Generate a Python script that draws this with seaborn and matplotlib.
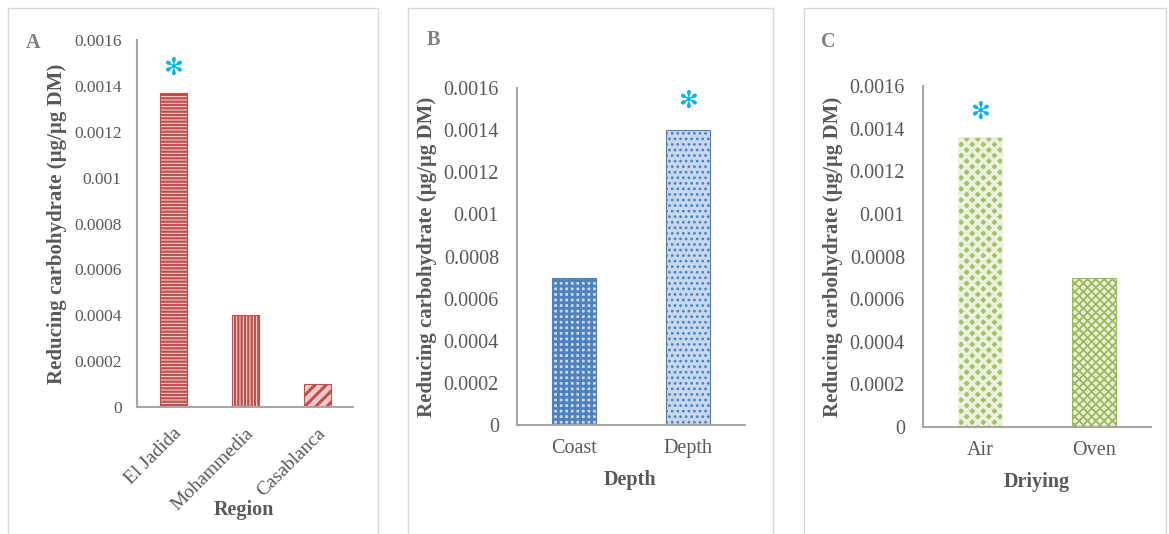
import matplotlib
matplotlib.use("Agg")
import matplotlib.pyplot as plt
import seaborn as sns
import numpy as np
import pandas as pd
from matplotlib.patches import Rectangle
from matplotlib.ticker import FixedLocator, FixedFormatter

# ---------------- data ----------------
region_cats = ["El Jadida", "Mohammedia", "Casablanca"]
region_vals = [0.00137, 0.00040, 0.00010]
depth_cats = ["Coast", "Depth"]
depth_vals = [0.00070, 0.00140]
drying_cats = ["Air", "Oven"]
drying_vals = [0.00136, 0.00070]
ytick_vals = [0, 0.0002, 0.0004, 0.0006, 0.0008, 0.001, 0.0012, 0.0014, 0.0016]
ytick_labels = ["0", "0.0002", "0.0004", "0.0006", "0.0008", "0.001", "0.0012", "0.0014", "0.0016"]
ylabel_text = "Reducing carbohydrate (µg/µg DM)"

sns.set_theme(style="white")
plt.rcParams["font.family"] = ["Liberation Serif", "DejaVu Sans"]
plt.rcParams["hatch.linewidth"] = 1.5

W, H = 1169, 534
fig = plt.figure(figsize=(W / 100, H / 100), dpi=100)
fig.patch.set_facecolor("white")

def px_axes(left, right, top, bottom):
    return fig.add_axes([left / W, (H - bottom) / H, (right - left) / W, (bottom - top) / H])

# panel borders
for (l, r) in [(8, 378), (408, 773), (804, 1166)]:
    fig.patches.append(Rectangle((l / W, -0.05), (r - l) / W, (H - 8) / H + 0.05,
                                 transform=fig.transFigure, fill=False,
                                 edgecolor="#d9d9d9", linewidth=1.0))

TICK_C = "#595959"
LAB_C = "#595959"
SPINE_C = "#a6a6a6"
STAR_C = "#00b0f0"

def style_axes(ax, cats, vals, styles, width, ytick_fs, xtick_fs, ypad, xpad, rot,
               ylab_x, xlab, xlab_xy, sig, star_off):
    sns.barplot(x=cats, y=vals, ax=ax, color="#ffffff", width=width, saturation=1, errorbar=None)
    for p, (fc, ec, hatch, hlw) in zip(ax.patches, styles):
        p.set_facecolor(fc)
        p.set_edgecolor(ec)
        p.set_hatch(hatch)
        p.set_linewidth(0.8)
        if hasattr(p, "set_hatch_linewidth"):
            p.set_hatch_linewidth(hlw)
    ax.set_xlim(-0.5, len(cats) - 0.5)
    ax.set_ylim(0, 0.0016)
    ax.yaxis.set_major_locator(FixedLocator(ytick_vals))
    ax.yaxis.set_major_formatter(FixedFormatter(ytick_labels))
    ax.tick_params(axis="y", length=0, pad=ypad, labelsize=ytick_fs, labelcolor=TICK_C)
    ax.tick_params(axis="x", length=0, pad=xpad, labelsize=xtick_fs, labelcolor=TICK_C)
    if rot:
        for t in ax.get_xticklabels():
            t.set_rotation(45)
            t.set_ha("right")
            t.set_rotation_mode("anchor")
    for s in ["top", "right"]:
        ax.spines[s].set_visible(False)
    for s in ["left", "bottom"]:
        ax.spines[s].set_color(SPINE_C)
        ax.spines[s].set_linewidth(1.5)
    ax.set_facecolor("none")
    ax.set_ylabel(ylabel_text, fontsize=15, fontweight="bold", color=LAB_C, va="center")
    ax.yaxis.set_label_coords(ylab_x, 0.5)
    ax.set_xlabel(xlab, fontsize=14.5, fontweight="bold", color=LAB_C, va="center")
    ax.xaxis.set_label_coords(*xlab_xy)
    ax.annotate("✻", xy=(sig, vals[sig]), xytext=(0, star_off), textcoords="offset pixels",
                ha="center", va="center", fontsize=17, color=STAR_C, family="DejaVu Sans",
                fontweight="bold")

# Panel A
axA = px_axes(137, 353, 40, 407)
red = "#c0504d"
style_axes(axA, region_cats, region_vals,
           [("#f6e0df", red, "-----", 1.7), ("#f6e0df", red, "|||||", 1.7), ("#f2c9c8", red, "///", 2.2)],
           0.375, 12.5, 14, 11, 13, True, -0.37, "Region", (0.495, -0.28), 0, 25)

# Panel B
axB = px_axes(517, 745, 88, 425)
blue = "#4f81bd"
style_axes(axB, depth_cats, depth_vals,
           [("#c6d9f1", blue, "+++", 2.0), ("#c6d9f1", blue, "...", 1.2)],
           0.386, 14.5, 14.5, 13, 10, False, -0.395, "Depth", (0.496, -0.163), 1, 29)

# Panel C
axC = px_axes(923, 1151, 86, 427)
green = "#9bbb59"
style_axes(axC, drying_cats, drying_vals,
           [("#a3c164", "#eaf1dc", "xxx", 2.6), ("#ebf1de", green, "xxxx", 1.3)],
           0.38, 14.5, 14.5, 13, 10, False, -0.395, "Driying", (0.5, -0.161), 0, 25)

# panel letters
for lab, x, y in [("A", 33, 43), ("B", 433, 40), ("C", 828, 42)]:
    fig.text(x / W, (H - y) / H, lab, fontsize=14.5, fontweight="bold", color="#7f7f7f",
             ha="center", va="center")

fig.savefig("out.png", dpi=100, facecolor="white")
